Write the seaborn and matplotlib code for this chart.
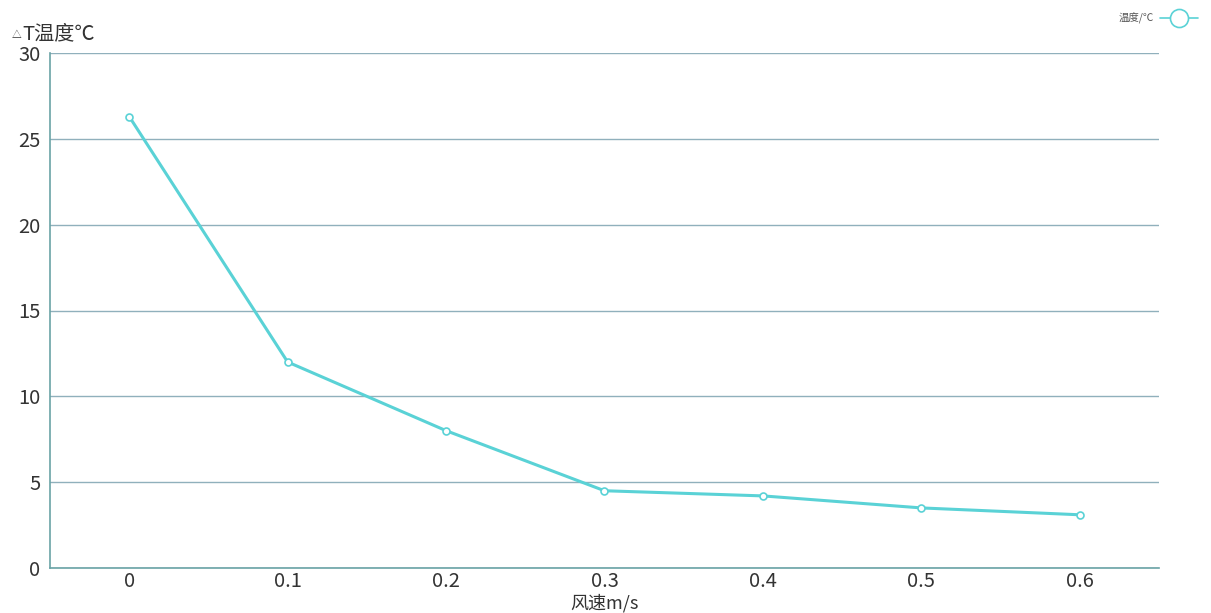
import matplotlib
matplotlib.use("Agg")
import matplotlib.pyplot as plt
from matplotlib.lines import Line2D
import seaborn as sns
import pandas as pd

# wind speed categories and measured temperature rise
speeds = ["0", "0.1", "0.2", "0.3", "0.4", "0.5", "0.6"]
temps = [26.3, 12.0, 8.0, 4.5, 4.2, 3.5, 3.1]
y_ticks = [0, 5, 10, 15, 20, 25, 30]

sns.set_style("white")
plt.rcParams['font.family'] = ['Noto Sans CJK SC', 'DejaVu Sans']

line_color = "#5ad2d6"
axis_color = "#6aa3a6"
grid_color = "#90b0bc"
text_color = "#333333"

df = pd.DataFrame({"speed": speeds, "temp": temps})

fig = plt.figure(figsize=(12.11, 6.13), dpi=100)
ax = fig.add_axes([50 / 1211, 45 / 613, 1109 / 1211, 515 / 613])

sns.lineplot(data=df, x="speed", y="temp", ax=ax, color=line_color,
             linewidth=2.2, marker="o", markersize=5,
             markerfacecolor="white", markeredgecolor=line_color,
             markeredgewidth=1.2, legend=False)

ax.set_xlim(-0.5, len(speeds) - 0.5)
ax.set_ylim(0, 30)
ax.set_yticks(y_ticks)
ax.set_xticks(range(len(speeds)))
ax.set_xticklabels(speeds)
ax.set_xticks([i - 0.5 for i in range(len(speeds) + 1)], minor=True)

ax.yaxis.grid(True, color=grid_color, linewidth=1)
ax.xaxis.grid(False)
ax.set_axisbelow(True)

for side in ["top", "right"]:
    ax.spines[side].set_visible(False)
for side in ["left", "bottom"]:
    ax.spines[side].set_color(axis_color)
    ax.spines[side].set_linewidth(1.2)

ax.tick_params(axis="x", which="major", length=0, pad=2,
               labelsize=14.5, labelcolor=text_color)
ax.tick_params(axis="x", which="minor", length=5, color=axis_color, width=1.2)
ax.tick_params(axis="y", length=5, color=axis_color, width=1.2, pad=2,
               labelsize=14.5, labelcolor=text_color)

ax.set_xlabel("")
ax.set_ylabel("")
fig.text(604 / 1211, 1 - 603 / 613, "风速m/s", fontsize=13, color=text_color,
         ha="center", va="center")

fig.text(12 / 1211, 1 - 35 / 613, "△", fontsize=7, color=text_color, va="center")
fig.text(22 / 1211, 1 - 34 / 613, "T温度℃", fontsize=14.5, color=text_color, va="center")

handle = Line2D([], [], color=line_color, linewidth=1.2, marker="o",
                markersize=13, markerfacecolor="white",
                markeredgecolor=line_color, markeredgewidth=1.2)
leg = ax.legend([handle], ["温度/℃"], loc="upper right",
                bbox_to_anchor=(1207 / 1211, 1 - 3 / 613),
                bbox_transform=fig.transFigure, frameon=False, markerfirst=False,
                fontsize=7.5, handlelength=3.6, handletextpad=0.6)
for t in leg.get_texts():
    t.set_color("#555555")

fig.savefig("out.png", dpi=100)
